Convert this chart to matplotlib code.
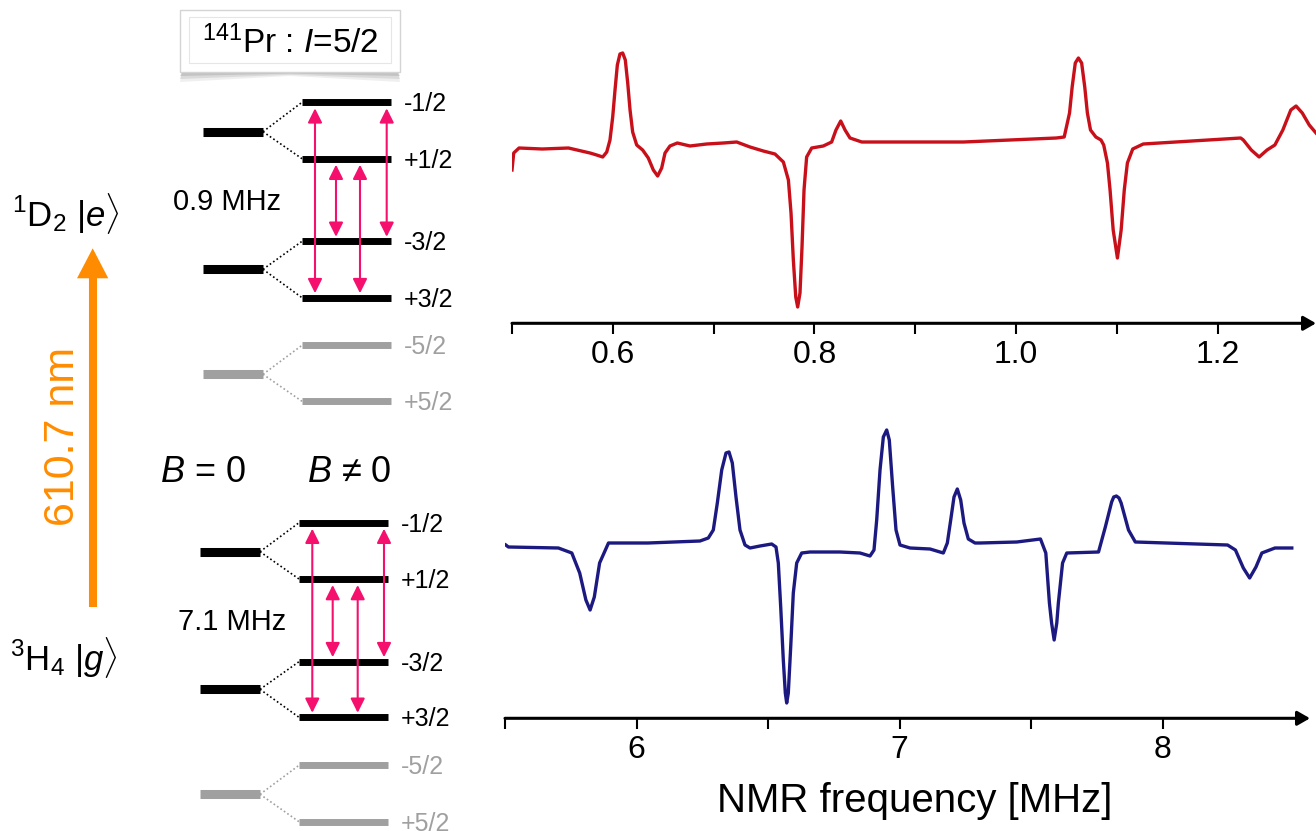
import matplotlib
matplotlib.use("Agg")
import matplotlib.pyplot as plt
from matplotlib.patches import FancyArrowPatch, Polygon, Rectangle

plt.rcParams['font.family'] = ['Liberation Sans', 'DejaVu Sans']
plt.rcParams['mathtext.fontset'] = 'custom'
plt.rcParams['mathtext.rm'] = 'Liberation Sans'
plt.rcParams['mathtext.it'] = 'Liberation Sans:italic'

# excited state 1D2 NMR trace: (frequency MHz, signal a.u.)
trace_e = [
    (0.500, -28), (0.5017, -11), (0.507, -6), (0.530, -7), (0.556, -6),
    (0.5774, -11), (0.584, -13), (0.590, -15), (0.594, -10), (0.5972, 2),
    (0.5999, 25), (0.6022, 52), (0.6045, 77), (0.6071, 88), (0.6098, 89),
    (0.6124, 82), (0.6148, 59), (0.6171, 32), (0.6197, 10), (0.6237, -3),
    (0.6296, -8), (0.6352, -16), (0.6402, -28), (0.6445, -34), (0.6485, -26),
    (0.6518, -11), (0.6567, -4), (0.664, -1), (0.6766, -4), (0.6931, -2),
    (0.7097, -1), (0.7229, 0), (0.7361, -5), (0.7493, -9), (0.7609, -12),
    (0.7692, -20), (0.7742, -38), (0.7768, -71), (0.7791, -118), (0.7815, -155),
    (0.7834, -165), (0.7857, -151), (0.7877, -105), (0.7897, -48), (0.7923, -15),
    (0.7973, -6), (0.8088, -4), (0.8171, 0), (0.8214, 12), (0.8261, 21),
    (0.8304, 12), (0.8353, 4), (0.847, 0), (0.948, 0), (1.040, 4),
    (1.0478, 5), (1.0531, 29), (1.0557, 55), (1.0588, 79), (1.0619, 84),
    (1.0651, 79), (1.0682, 55), (1.0708, 29), (1.0739, 12), (1.0792, 5),
    (1.0843, 2), (1.087, -3), (1.0907, -21), (1.0933, -48), (1.0964, -88),
    (1.1006, -116), (1.1043, -88), (1.1074, -48), (1.1105, -21), (1.1158, -7),
    (1.1262, -2), (1.2229, 4), (1.2255, 2), (1.2334, -8), (1.2412, -15),
    (1.249, -8), (1.2568, -3), (1.2647, 12), (1.2726, 32), (1.2778, 36),
    (1.284, 29), (1.2909, 17), (1.2976, 9),
]

# ground state 3H4 NMR trace
trace_g = [
    (5.503, 0), (5.513, -2), (5.703, -3), (5.754, -8), (5.784, -28),
    (5.8076, -55), (5.8236, -65), (5.8396, -52), (5.8597, -18), (5.8935, 2),
    (6.0437, 2), (6.2414, 4), (6.273, 7), (6.292, 15), (6.3073, 42),
    (6.324, 75), (6.3403, 92), (6.3517, 93), (6.3643, 82), (6.3783, 48),
    (6.3935, 15), (6.4125, 0), (6.4316, -3), (6.4696, -1), (6.514, 1),
    (6.5304, -2), (6.5392, -18), (6.5483, -62), (6.5582, -115), (6.5658, -148),
    (6.5711, -158), (6.5772, -148), (6.5863, -102), (6.5962, -48), (6.6091, -18),
    (6.6281, -8), (6.6597, -7), (6.7738, -7), (6.8498, -8), (6.8878, -11),
    (6.903, -5), (6.9133, 25), (6.9259, 75), (6.9385, 108), (6.9513, 115),
    (6.9612, 105), (6.974, 58), (6.9867, 15), (7.0019, 0), (7.04, -3),
    (7.116, -4), (7.1666, -8), (7.1818, 2), (7.1947, 25), (7.2072, 48),
    (7.2198, 56), (7.2327, 45), (7.2452, 22), (7.2616, 6), (7.2871, 2),
    (7.3061, 2), (7.446, 3), (7.536, 6), (7.5563, -8), (7.570, -58),
    (7.5783, -78), (7.588, -95), (7.598, -78), (7.604, -58), (7.620, -18),
    (7.636, -8), (7.7567, -7), (7.7826, 18), (7.8066, 43), (7.8145, 48),
    (7.8247, 49), (7.8346, 47), (7.8427, 42), (7.8707, 15), (7.8966, 3),
    (8.2473, 0), (8.2773, -5), (8.3073, -23), (8.3313, -33), (8.3553, -22),
    (8.3777, -8), (8.4275, -3), (8.4916, -3),
]
freq_e, sig_e = zip(*trace_e)
freq_g, sig_g = zip(*trace_g)

top_ticks = [0.5, 0.6, 0.7, 0.8, 0.9, 1.0, 1.1, 1.2]
top_labels = ['', '0.6', '', '0.8', '', '1.0', '', '1.2']
bot_ticks = [5.5, 6.0, 6.5, 7.0, 7.5, 8.0]
bot_labels = ['', '6', '', '7', '', '8']

sublevels = ['-1/2', '+1/2', '-3/2', '+3/2', '-5/2', '+5/2']
transitions = [('-1/2', '+3/2'), ('+1/2', '-3/2'), ('+1/2', '+3/2'), ('-1/2', '-3/2')]
splittings = ['0.9 MHz', '7.1 MHz']
states = [r'$^1$D$_2$ |$e$$\rangle$', r'$^3$H$_4$ |$g$$\rangle$']

W, H = 1316, 831
pink = '#f5106e'
orange = '#ff8c00'
gray = '#a0a0a0'

fig = plt.figure(figsize=(W / 100, H / 100), dpi=100)


def frac(x0, y0, x1, y1):
    return [x0 / W, 1 - y1 / H, (x1 - x0) / W, (y1 - y0) / H]


# ---- level scheme, drawn in pixel coordinates ----
dia = fig.add_axes([0, 0, 1, 1])
dia.set_xlim(0, W)
dia.set_ylim(H, 0)
dia.axis('off')

blocks = [
    dict(b0=(203, 263), sub=(302, 391), b0_y=[131.7, 269.3, 374.3],
         sub_y=[102.3, 158.7, 241.3, 297.7, 345.3, 401.3],
         arrow_x=[315, 336, 360, 386.7], split_xy=(227.5, 202), state_xy=(12, 213)),
    dict(b0=(200, 260), sub=(299, 388), b0_y=[551.7, 689.3, 794.3],
         sub_y=[522.7, 579, 661.7, 717.3, 765.3, 821.7],
         arrow_x=[312.3, 332.7, 357.7, 384], split_xy=(232, 622), state_xy=(10, 658)),
]

for k, b in enumerate(blocks):
    for i, y0 in enumerate(b['b0_y']):
        col = 'k' if i < 2 else gray
        dia.plot(b['b0'], [y0, y0], color=col, lw=6.5, solid_capstyle='butt')
        for j in (2 * i, 2 * i + 1):
            ys = b['sub_y'][j]
            dia.plot([b['b0'][1], b['sub'][0]], [y0, ys], color=col,
                     lw=1.2, ls=(0, (1, 1.5)))
            dia.plot(b['sub'], [ys, ys], color=col, lw=5, solid_capstyle='butt')
            dia.text(b['sub'][1] + 13, ys + 2, sublevels[j], fontsize=18,
                     color=col, ha='left', va='center')
    for x, (a, c) in zip(b['arrow_x'], transitions):
        ya = b['sub_y'][sublevels.index(a)]
        yc = b['sub_y'][sublevels.index(c)]
        arr = FancyArrowPatch((x, min(ya, yc) + 6), (x, max(ya, yc) - 4.5),
                              arrowstyle='<|-|>,head_length=0.86,head_width=0.43',
                              mutation_scale=10, lw=1.5, color=pink,
                              shrinkA=0, shrinkB=0, zorder=5)
        dia.add_patch(arr)
    dia.text(*b['split_xy'], splittings[k], fontsize=21, ha='center', va='center')
    dia.text(*b['state_xy'], states[k], fontsize=25, ha='left', va='center')

# optical transition
dia.plot([92.7, 92.7], [606.7, 276], color=orange, lw=5.8, solid_capstyle='butt')
dia.add_patch(Polygon([[77, 278.3], [108.3, 278.3], [92.7, 248.3]], closed=True,
                      fc=orange, ec='none'))
dia.text(63.5, 436, '610.7 nm', rotation=90, color=orange, fontsize=31,
         ha='center', va='center')

dia.text(203, 472, r'$B$ = 0', fontsize=26, ha='center', va='center')
dia.text(349, 472, r'$B$ ≠ 0', fontsize=26, ha='center', va='center')

# nucleus label box with a soft shadow underneath
for off, a in [(10, 0.12), (7, 0.18), (4, 0.25)]:
    dia.add_patch(Polygon([[182, 72], [398, 72], [400, 72 + off], [290, 72 + off * 0.4],
                           [180, 72 + off]], closed=True, fc='#808080', ec='none',
                          alpha=a))
dia.add_patch(Rectangle((180, 10), 220, 62, fc='white', ec='#d4d4d4', lw=1))
dia.add_patch(Rectangle((189, 17), 202, 46, fill=False, ec='#e6e6e6', lw=0.8))
dia.text(290, 43, r'$^{141}$Pr : $I$=5/2', fontsize=24, ha='center', va='center')


# ---- spectra ----
def spectrum(rect, f, s, color, xlim, ylim, ticks, labels):
    ax = fig.add_axes(frac(*rect))
    ax.plot(f, s, color=color, lw=2.4, solid_joinstyle='round')
    ax.set_xlim(xlim)
    ax.set_ylim(ylim)
    for sp in ax.spines.values():
        sp.set_visible(False)
    ax.set_yticks([])
    ax.set_xticks(ticks, labels)
    ax.tick_params(axis='x', direction='out', length=7.7, width=1.5,
                   labelsize=23, pad=4)
    ax.annotate('', xy=(1, 0), xytext=(0, 0), xycoords='axes fraction',
                arrowprops=dict(arrowstyle='-|>,head_length=0.75,head_width=0.43',
                                mutation_scale=10, lw=2.2, color='k',
                                shrinkA=0, shrinkB=0))
    ax.patch.set_visible(False)
    return ax


ax1 = spectrum((512, 40, 1316, 323.3), freq_e, sig_e, '#c8101a',
               (0.5, 1.2976), (-181.3, 102), top_ticks, top_labels)
ax2 = spectrum((505, 420, 1310, 718.3), freq_g, sig_g, '#1c1a80',
               (5.5, 8.5608), (-173.3, 125), bot_ticks, bot_labels)
ax2.set_xlabel('NMR frequency [MHz]', fontsize=29)
ax2.xaxis.set_label_coords(0.509, -0.2135)

fig.savefig('out.png', dpi=100)
